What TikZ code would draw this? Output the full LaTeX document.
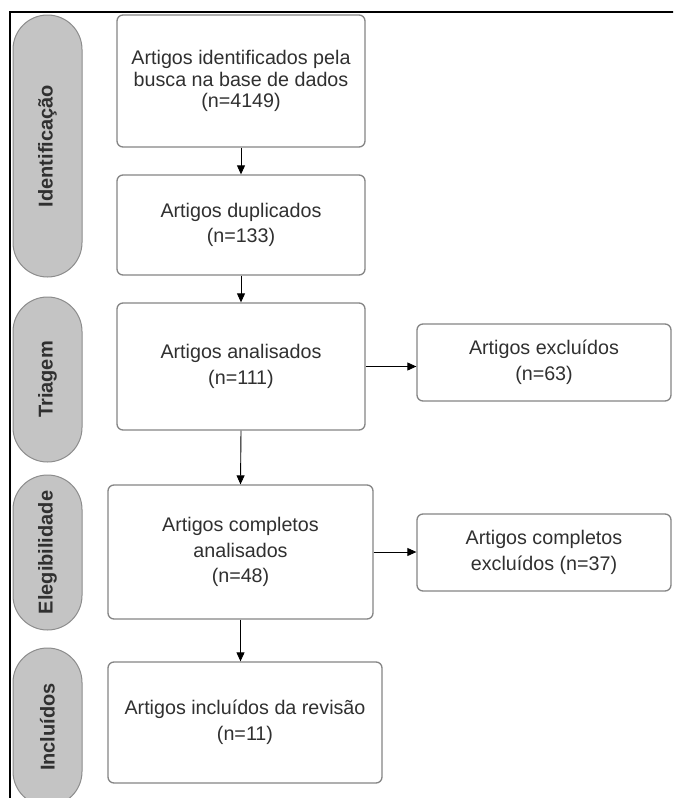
\documentclass[tikz,border=0pt]{standalone}
\usepackage{fontspec}
\setmainfont{Liberation Sans}
\usetikzlibrary{arrows.meta}
\definecolor{boxgray}{HTML}{858585}
\definecolor{textgray}{HTML}{303030}
\definecolor{pillfill}{HTML}{C4C4C4}
\definecolor{pilldraw}{HTML}{8C8C8C}
\begin{document}
\begin{tikzpicture}[x=1pt,y=-1pt,
  stepbox/.style={draw=boxgray, line width=1.3pt, rounded corners=6pt, fill=white,
    text=textgray, align=center, inner sep=0pt,
    font=\fontsize{19.7}{25.5}\selectfont},
  pill/.style={draw=pilldraw, line width=1pt, fill=pillfill, rounded corners=34.5pt,
    rotate=90, minimum height=69pt, inner sep=0pt, text=textgray,
    font=\fontsize{20}{24}\selectfont\bfseries},
  flow/.style={draw=black, line width=0.9pt, -{Triangle[length=9pt,width=8pt]}}
]
\useasboundingbox (0,0) rectangle (673,798);
\clip (0,0) rectangle (673,798);
\fill[white] (0,0) rectangle (673,798);

% phase pills
\node[pill, minimum width=262pt] (p1) at (47.5,146) {Identificação};
\node[pill, minimum width=165pt] (p2) at (47.5,379.5) {Triagem};
\node[pill, minimum width=155pt] (p3) at (47.5,552.5) {Elegibilidade};
\node[pill, minimum width=158pt] (p4) at (47.5,727) {Incluídos};

% frame
\draw[line width=2.3pt] (10,800) -- (10,12) -- (675,12);

% boxes
\node[stepbox, minimum width=248pt, minimum height=132pt,
  font=\fontsize{19.7}{21.7}\selectfont] (b1) at (241,81)
  {Artigos identificados pela\\busca na base de dados\\(n=4149)};
\node[stepbox, minimum width=248pt, minimum height=100pt] (b2) at (241,225)
  {Artigos duplicados\\(n=133)};
\node[stepbox, minimum width=248pt, minimum height=127pt] (b3) at (241,366.5)
  {Artigos analisados\\(n=111)};
\node[stepbox, minimum width=254pt, minimum height=77pt] (b6) at (544,362.5)
  {Artigos excluídos\\(n=63)};
\node[stepbox, minimum width=265pt, minimum height=134pt] (b4) at (240.5,552)
  {Artigos completos\\analisados\\(n=48)};
\node[stepbox, minimum width=254pt, minimum height=77pt] (b7) at (544,552.5)
  {Artigos completos\\excluídos (n=37)};
\node[stepbox, minimum width=274pt, minimum height=121pt] (b5) at (245,722.5)
  {Artigos incluídos da revisão\\(n=11)};

% connectors
\draw[flow] (b1.south) -- (b2.north);
\draw[flow] (b2.south) -- (b3.north);
\draw[flow] (b3.south) -- (b4.north);
\draw[flow] (b4.south) -- (b4.south |- b5.north);
\draw[flow] (b3.east) -- (b3.east -| b6.west);
\draw[flow] (b4.east) -- (b4.east -| b7.west);
\end{tikzpicture}
\end{document}
